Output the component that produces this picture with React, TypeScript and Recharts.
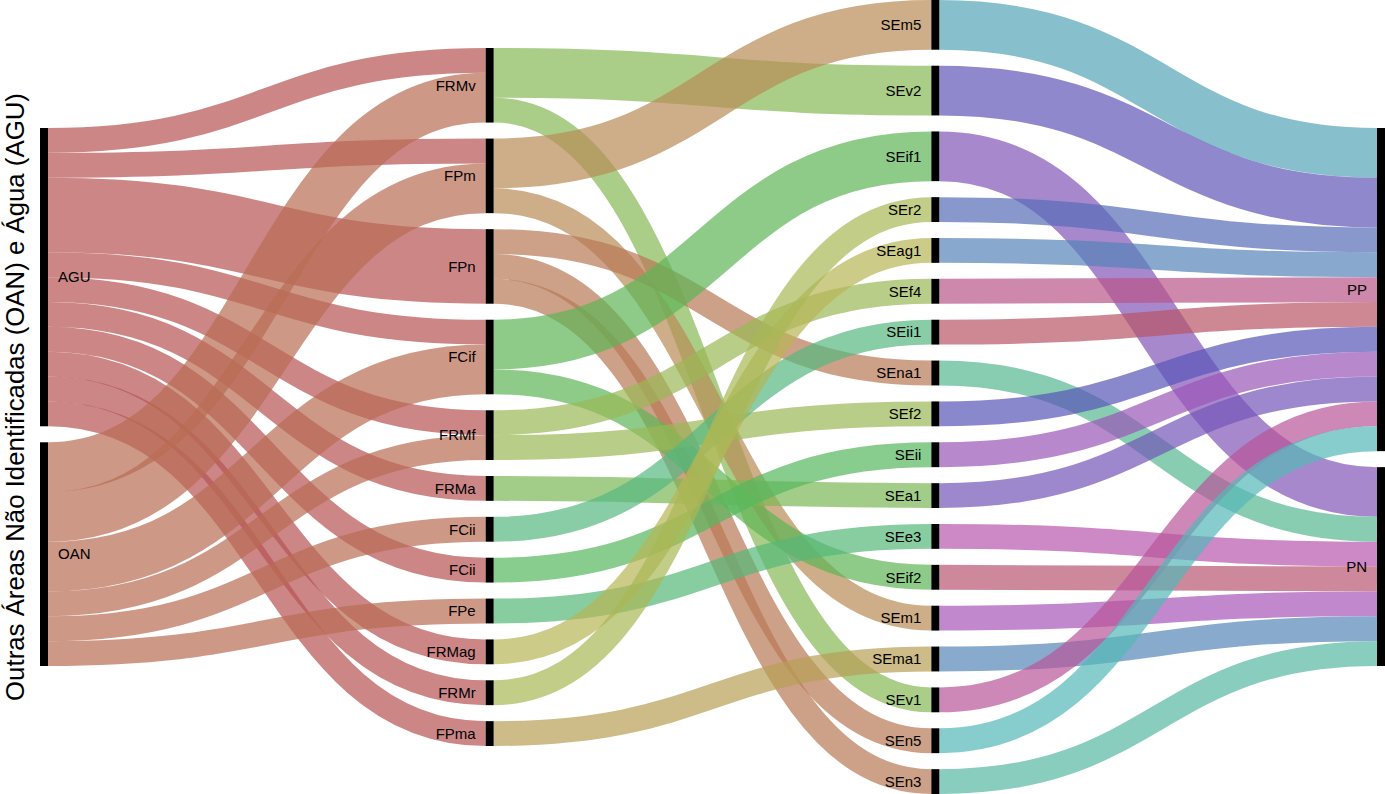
import React from 'react';
import { Sankey } from 'recharts';

// ---------- DATA ----------
const NODE_IDS = [
  'AGU', 'OAN',
  'FRMv', 'FPm', 'FPn', 'FCif', 'FRMf', 'FRMa', 'FCii_1', 'FCii_2', 'FPe', 'FRMag', 'FRMr', 'FPma',
  'SEm5', 'SEv2', 'SEif1', 'SEr2', 'SEag1', 'SEf4', 'SEii1', 'SEna1', 'SEf2', 'SEii', 'SEa1', 'SEe3',
  'SEif2', 'SEm1', 'SEma1', 'SEv1', 'SEn5', 'SEn3',
  'PP', 'PN',
];

const NODE_LABELS: Record<string, string> = {
  AGU: 'AGU', OAN: 'OAN',
  FRMv: 'FRMv', FPm: 'FPm', FPn: 'FPn', FCif: 'FCif', FRMf: 'FRMf', FRMa: 'FRMa',
  FCii_1: 'FCii', FCii_2: 'FCii', FPe: 'FPe', FRMag: 'FRMag', FRMr: 'FRMr', FPma: 'FPma',
  SEm5: 'SEm5', SEv2: 'SEv2', SEif1: 'SEif1', SEr2: 'SEr2', SEag1: 'SEag1', SEf4: 'SEf4',
  SEii1: 'SEii1', SEna1: 'SEna1', SEf2: 'SEf2', SEii: 'SEii', SEa1: 'SEa1', SEe3: 'SEe3',
  SEif2: 'SEif2', SEm1: 'SEm1', SEma1: 'SEma1', SEv1: 'SEv1', SEn5: 'SEn5', SEn3: 'SEn3',
  PP: 'PP', PN: 'PN',
};

const LINKS_ORIGIN: [string, string, number][] = [
  ['AGU', 'FRMv', 1], ['AGU', 'FPm', 1], ['AGU', 'FPn', 3], ['AGU', 'FCif', 1], ['AGU', 'FRMf', 1],
  ['AGU', 'FRMa', 1], ['AGU', 'FCii_2', 1], ['AGU', 'FRMag', 1], ['AGU', 'FRMr', 1], ['AGU', 'FPma', 1],
  ['OAN', 'FRMv', 2], ['OAN', 'FPm', 2], ['OAN', 'FCif', 2], ['OAN', 'FRMf', 1], ['OAN', 'FCii_1', 1],
  ['OAN', 'FPe', 1],
];

const LINKS_FACTOR: [string, string, number][] = [
  ['FRMv', 'SEv2', 2], ['FRMv', 'SEv1', 1],
  ['FPm', 'SEm5', 2], ['FPm', 'SEm1', 1],
  ['FPn', 'SEna1', 1], ['FPn', 'SEn5', 1], ['FPn', 'SEn3', 1],
  ['FCif', 'SEif1', 2], ['FCif', 'SEif2', 1],
  ['FRMf', 'SEf4', 1], ['FRMf', 'SEf2', 1],
  ['FRMa', 'SEa1', 1],
  ['FCii_1', 'SEii1', 1],
  ['FCii_2', 'SEii', 1],
  ['FPe', 'SEe3', 1],
  ['FRMag', 'SEag1', 1],
  ['FRMr', 'SEr2', 1],
  ['FPma', 'SEma1', 1],
];

const LINKS_OUTCOME: [string, string, number][] = [
  ['SEm5', 'PP', 2], ['SEv2', 'PP', 2], ['SEif1', 'PN', 2], ['SEr2', 'PP', 1], ['SEag1', 'PP', 1],
  ['SEf4', 'PP', 1], ['SEii1', 'PP', 1], ['SEna1', 'PN', 1], ['SEf2', 'PP', 1], ['SEii', 'PP', 1],
  ['SEa1', 'PP', 1], ['SEe3', 'PN', 1], ['SEif2', 'PN', 1], ['SEm1', 'PN', 1], ['SEma1', 'PN', 1],
  ['SEv1', 'PP', 1], ['SEn5', 'PP', 1], ['SEn3', 'PN', 1],
];

const Y_TITLE = 'Outras Áreas Não Identificadas (OAN) e Água (AGU)';

// ---------- STYLE ----------
const NODE_COLORS: Record<string, string> = {
  AGU: '#CC8686', OAN: '#CE9887',
  FRMv: '#AACD88', FPm: '#CDAE88', FPn: '#CDA088', FCif: '#8ECB88', FRMf: '#B8CD88', FRMa: '#A2CD88',
  FCii_1: '#88CDA6', FCii_2: '#88CD8E', FPe: '#88CDA0', FRMag: '#CDCB88', FRMr: '#C2CD88', FPma: '#CDBB88',
  SEm5: '#88BFCD', SEv2: '#9088CD', SEif1: '#A888CD', SEr2: '#8898CD', SEag1: '#88A8CD', SEf4: '#CD88AC',
  SEii1: '#CD8894', SEna1: '#88CDB2', SEf2: '#8A88CD', SEii: '#B888CD', SEa1: '#9E88CD', SEe3: '#CD88C6',
  SEif2: '#CD889C', SEm1: '#C288CD', SEma1: '#88AACD', SEv1: '#CD88B8', SEn5: '#88CDCD', SEn3: '#88CDBD',
  PP: '#888888', PN: '#888888',
};

const W = 1385;
const H = 794;
const LEFT = 40;
const NODE_W = 8;
const PAD = 16;
const ALPHA = 0.7;
const FONT = '"Liberation Sans", Arial, sans-serif';

// convert the colour seen on white into the base colour drawn with ALPHA
function baseColor(hex: string): string {
  const n = parseInt(hex.slice(1), 16);
  const ch = [(n >> 16) & 255, (n >> 8) & 255, n & 255].map((d) =>
    Math.max(0, Math.min(255, Math.round(255 - (255 - d) / ALPHA)))
  );
  return `rgb(${ch[0]},${ch[1]},${ch[2]})`;
}

const ALL_LINKS = [...LINKS_ORIGIN, ...LINKS_FACTOR, ...LINKS_OUTCOME];
const idx = (id: string) => NODE_IDS.indexOf(id);

const sankeyData = {
  nodes: NODE_IDS.map((id) => ({ name: id })),
  links: ALL_LINKS.map(([s, t, v]) => ({ source: idx(s), target: idx(t), value: v })),
};

// vertical centring of each column (library packs columns from the top)
function columnOffsets(): number[] {
  const n = NODE_IDS.length;
  const depth = new Array(n).fill(0);
  const inSum = new Array(n).fill(0);
  const outSum = new Array(n).fill(0);
  sankeyData.links.forEach((l) => {
    outSum[l.source] += l.value;
    inSum[l.target] += l.value;
  });
  let changed = true;
  while (changed) {
    changed = false;
    sankeyData.links.forEach((l) => {
      if (depth[l.target] < depth[l.source] + 1) {
        depth[l.target] = depth[l.source] + 1;
        changed = true;
      }
    });
  }
  const maxD = Math.max(...depth);
  for (let i = 0; i < n; i++) if (outSum[i] === 0) depth[i] = maxD;
  const cols = Array.from({ length: maxD + 1 }, () => ({ count: 0, sum: 0 }));
  for (let i = 0; i < n; i++) {
    cols[depth[i]].count += 1;
    cols[depth[i]].sum += Math.max(inSum[i], outSum[i]);
  }
  const ratio = Math.min(...cols.map((c) => (H - (c.count - 1) * PAD) / c.sum));
  return cols.map((c) => (H - (c.sum * ratio + (c.count - 1) * PAD)) / 2);
}
const OFFSETS = columnOffsets();

const renderNode = (props: any) => {
  const { x, y, width, height, payload } = props;
  const off = OFFSETS[payload.depth] || 0;
  const yy = y + off;
  const first = payload.depth === 0;
  return (
    <g>
      <rect x={x} y={yy} width={width} height={height} fill="#000" />
      <text
        x={first ? x + width + 10 : x - 10}
        y={yy + height / 2}
        dy="0.35em"
        textAnchor={first ? 'start' : 'end'}
        fontSize={15}
        fontFamily={FONT}
        fill="#000"
      >
        {NODE_LABELS[payload.name]}
      </text>
    </g>
  );
};

const renderLink = (props: any) => {
  const { sourceX, targetX, sourceY, targetY, sourceControlX, targetControlX, linkWidth, payload } = props;
  const s = payload.source;
  const t = payload.target;
  const sy = sourceY + (OFFSETS[s.depth] || 0);
  const ty = targetY + (OFFSETS[t.depth] || 0);
  return (
    <path
      d={`M${sourceX},${sy}C${sourceControlX},${sy} ${targetControlX},${ty} ${targetX},${ty}`}
      fill="none"
      stroke={baseColor(NODE_COLORS[s.name])}
      strokeOpacity={ALPHA}
      strokeWidth={linkWidth}
    />
  );
};

export default function App() {
  return (
    <div style={{ position: 'absolute', left: 0, top: 0, width: W, height: H, background: '#fff' }}>
      <Sankey
        width={W}
        height={H}
        data={sankeyData}
        nodeWidth={NODE_W}
        nodePadding={PAD}
        iterations={0}
        margin={{ top: 0, right: 0, bottom: 0, left: LEFT }}
        node={renderNode}
        link={renderLink}
      />
      <svg
        width={W}
        height={H}
        style={{ position: 'absolute', left: 0, top: 0, pointerEvents: 'none' }}
      >
        <text
          transform={`translate(23.5, 397) rotate(-90)`}
          textAnchor="middle"
          fontSize={25.8}
          fontFamily={FONT}
          fill="#000"
        >
          {Y_TITLE}
        </text>
      </svg>
    </div>
  );
}
